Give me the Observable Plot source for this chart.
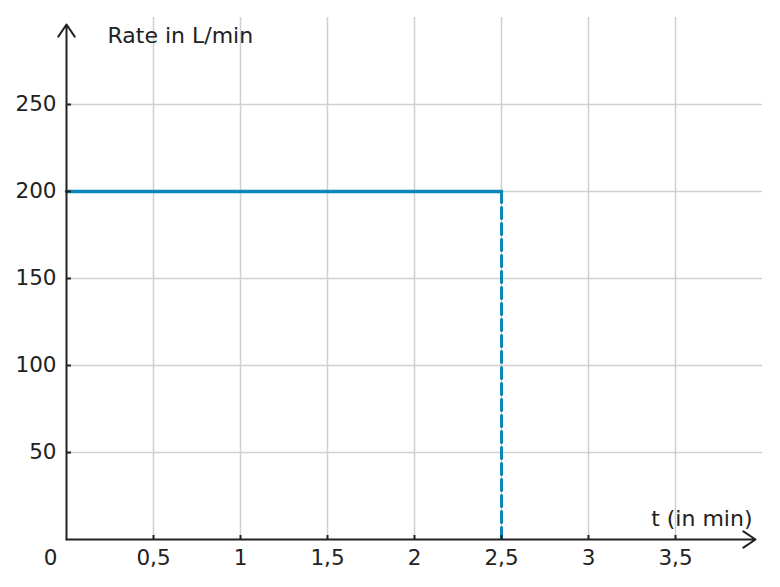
<!DOCTYPE html>
<html>
<head>
<meta charset="utf-8">
<script src="https://cdn.jsdelivr.net/npm/d3@7"></script>
<script src="https://cdn.jsdelivr.net/npm/@observablehq/plot@0.6"></script>
<style>
  body { margin: 0; background: #fff; }
  svg { font-family: "DejaVu Sans", sans-serif; }
</style>
</head>
<body>
<div id="chart"></div>
<script>
const xTicks = [0.5, 1, 1.5, 2, 2.5, 3, 3.5];
const yTicks = [50, 100, 150, 200, 250];
const rateSegment = [{t: 0, rate: 200}, {t: 2.5, rate: 200}];
const dropSegment = [{t: 2.5, rate: 200}, {t: 2.5, rate: 0}];
const xAxisArrow = [{x1: 0, y1: 0, x2: 3.96, y2: 0}];
const yAxisArrow = [{x1: 0, y1: 0, x2: 0, y2: 296}];
const yLabel = "Rate in L/min";
const xLabel = "t (in min)";
const lineColor = "#0b87b9";
const fmt = d => String(d).replace(".", ",");

const chart = Plot.plot({
  width: 780,
  height: 587,
  marginLeft: 66,
  marginRight: 18,
  marginTop: 17,
  marginBottom: 48,
  style: {fontFamily: "DejaVu Sans, sans-serif", fontSize: "21px", color: "#222"},
  x: {domain: [0, 4]},
  y: {domain: [0, 300]},
  marks: [
    Plot.gridX(xTicks, {stroke: "#d0d0d0", strokeOpacity: 1, strokeWidth: 1.5}),
    Plot.gridY(yTicks, {stroke: "#d0d0d0", strokeOpacity: 1, strokeWidth: 1.5}),
    Plot.line(dropSegment, {x: "t", y: "rate", stroke: lineColor, strokeWidth: 3, strokeDasharray: "11,5"}),
    Plot.line(rateSegment, {x: "t", y: "rate", stroke: lineColor, strokeWidth: 3.5}),
    Plot.arrow(xAxisArrow, {x1: "x1", y1: "y1", x2: "x2", y2: "y2", stroke: "#222", strokeWidth: 2, headLength: 11, headAngle: 68}),
    Plot.arrow(yAxisArrow, {x1: "x1", y1: "y1", x2: "x2", y2: "y2", stroke: "#222", strokeWidth: 2, headLength: 11, headAngle: 68}),
    Plot.axisX({ticks: xTicks, tickSize: -4, tickFormat: () => "", stroke: "#222", strokeWidth: 2, strokeOpacity: 1, label: null}),
    Plot.axisX({ticks: xTicks, tickSize: 0, tickPadding: 10, tickFormat: fmt, fontSize: 21.5, fill: "#222", label: null}),
    Plot.axisY({ticks: yTicks, tickSize: -5, tickFormat: () => "", stroke: "#222", strokeWidth: 2, strokeOpacity: 1, label: null}),
    Plot.axisY({ticks: yTicks, tickSize: 0, tickPadding: 10, tickFormat: fmt, fontSize: 21.5, fill: "#222", label: null}),
    Plot.text([0], {x: 0, y: 0, text: d => "0", dx: -16, dy: 19, fontSize: 21.5, fill: "#222"}),
    Plot.text([yLabel], {x: 0, y: 300, text: d => d, textAnchor: "start", dx: 41, dy: 18, fontSize: 22, fill: "#222"}),
    Plot.text([xLabel], {x: 4, y: 0, text: d => d, textAnchor: "end", dx: -10, dy: -21, fontSize: 22, fill: "#222"})
  ]
});
document.getElementById("chart").appendChild(chart);
</script>
</body>
</html>
